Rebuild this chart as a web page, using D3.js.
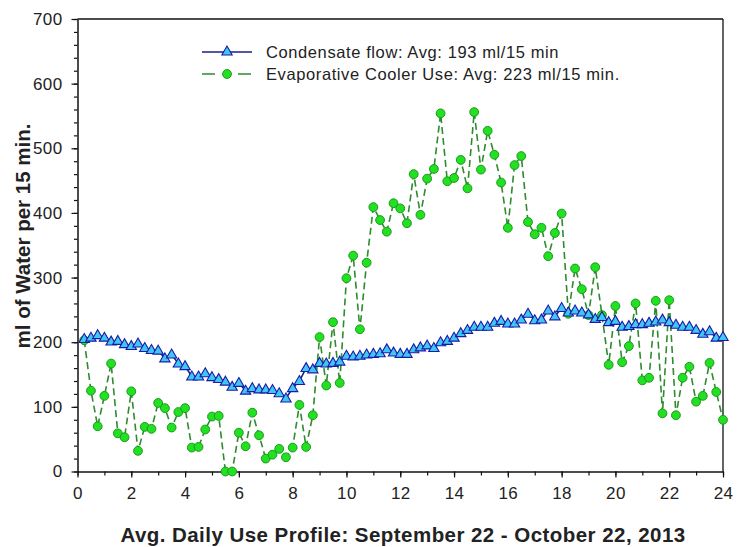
<!DOCTYPE html>
<html>
<head>
<meta charset="utf-8">
<script src="https://cdn.jsdelivr.net/npm/d3@7/dist/d3.min.js"></script>
<style>
  html, body { margin: 0; padding: 0; background: #fff; }
  svg { display: block; }
  text { font-family: "Liberation Sans", Arial, sans-serif; }
</style>
</head>
<body>
<svg id="chart" width="747" height="547"></svg>
<script>
// ---- data (15-minute intervals, hour 0.25 ... 24) ----
const stepHours = 0.25;
const condensate = [
  205, 207, 211, 207, 201, 202, 197, 194, 198, 191, 188, 187,
  175, 181, 167, 163, 147, 147, 152, 146, 143, 139, 131, 137,
  125, 129, 127, 127, 126, 121, 113, 129, 140, 160, 158, 168,
  167, 168, 170, 179, 178, 179, 181, 182, 183, 189, 184, 182,
  182, 189, 192, 195, 191, 200, 202, 207, 214, 219, 224, 224,
  224, 230, 233, 229, 229, 235, 244, 234, 235, 249, 240, 253,
  246, 249, 246, 243, 236, 239, 231, 233, 224, 225, 228, 228,
  230, 232, 235, 231, 227, 224, 224, 219, 213, 217, 207, 208
];
const evapCooler = [
  203, 125, 70, 117, 167, 59, 53, 124, 32, 69, 66, 106,
  98, 68, 92, 98, 37, 38, 65, 85, 86, 0, 0, 60,
  39, 91, 56, 20, 26, 35, 22, 37, 103, 38, 87, 208,
  133, 231, 137, 299, 334, 220, 323, 409, 389, 371, 415, 407,
  384, 460, 397, 453, 468, 554, 449, 454, 482, 438, 556, 467,
  527, 490, 447, 377, 474, 488, 386, 367, 377, 333, 369, 399,
  244, 314, 282, 242, 316, 242, 165, 256, 169, 194, 260, 141,
  145, 264, 90, 265, 87, 145, 162, 108, 117, 168, 123, 80
];
const xTicks = [0, 2, 4, 6, 8, 10, 12, 14, 16, 18, 20, 22, 24];
const yTicks = [0, 100, 200, 300, 400, 500, 600, 700];
const seriesNames = [
  "Condensate flow: Avg: 193 ml/15 min",
  "Evaporative Cooler Use: Avg: 223 ml/15 min."
];
const xTitle = "Avg. Daily Use Profile: September 22 - October 22, 2013";
const yTitle = "ml of Water per 15 min.";

// ---- layout ----
const svg = d3.select("#chart");
const pLeft = 77.5, pRight = 723, pTop = 19, pBottom = 471.5;
const x = d3.scaleLinear().domain([0, 24]).range([pLeft, pRight]);
const y = d3.scaleLinear().domain([0, 700]).range([pBottom, pTop]);

const ink = "#222";

// frame top/right
svg.append("line").attr("x1", pLeft).attr("x2", pRight).attr("y1", pTop).attr("y2", pTop)
  .attr("stroke", "#111").attr("stroke-width", 1.3);
svg.append("line").attr("x1", pRight).attr("x2", pRight).attr("y1", pTop).attr("y2", pBottom)
  .attr("stroke", "#111").attr("stroke-width", 1.3);

// minor ticks
const xMinor = d3.range(0, 25, 1);
const yMinor = d3.range(0, 701, 20);

const xAxisG = svg.append("g").attr("transform", `translate(0,${pBottom})`);
xAxisG.call(d3.axisBottom(x).tickValues(xMinor).tickSize(4).tickFormat(""));
xAxisG.call(g => g.select(".domain").remove());
svg.append("g").attr("transform", `translate(0,${pBottom})`)
  .call(d3.axisBottom(x).tickValues(xTicks).tickSize(6).tickSizeOuter(0).tickPadding(9).tickFormat(d3.format("d")));

const yAxisG = svg.append("g").attr("transform", `translate(${pLeft},0)`);
yAxisG.call(d3.axisLeft(y).tickValues(yMinor).tickSize(3.5).tickFormat(""));
yAxisG.call(g => g.select(".domain").remove());
svg.append("g").attr("transform", `translate(${pLeft},0)`)
  .call(d3.axisLeft(y).tickValues(yTicks).tickSize(6).tickSizeOuter(0).tickPadding(9).tickFormat(d3.format("d")));

svg.selectAll(".tick line").attr("stroke", "#111").attr("stroke-width", 1.2);
svg.selectAll(".domain").attr("stroke", "#111").attr("stroke-width", 1.5);
svg.selectAll(".tick text").attr("font-size", "17px").attr("fill", ink)
  .attr("letter-spacing", "0.4px")
  .attr("font-family", "'Liberation Sans', Arial, sans-serif");

// titles
svg.append("text").attr("x", 403).attr("y", 542).attr("text-anchor", "middle")
  .attr("font-size", "20.5px").attr("font-weight", "bold").attr("letter-spacing", "0.45px")
  .attr("fill", ink).text(xTitle);
svg.append("text").attr("transform", "translate(30,236) rotate(-90)").attr("text-anchor", "middle")
  .attr("font-size", "20.5px").attr("font-weight", "bold").attr("fill", ink).text(yTitle);

// ---- series ----
const hours = condensate.map((_, i) => (i + 1) * stepHours);
const condData = condensate.map((v, i) => [hours[i], v]);
const evapData = evapCooler.map((v, i) => [hours[i], v]);
const line = d3.line().x(d => x(d[0])).y(d => y(d[1]));

const condLine = "#1c1c8a", triFill = "#3fc6f2", triStroke = "#1a1aa8";
const evapLine = "#2e8b2e", dotFill = "#22e022", dotStroke = "#1a9a1a";

const tri = d3.symbol().type(d3.symbolTriangle).size(46);

svg.append("path").datum(evapData).attr("d", line).attr("fill", "none")
  .attr("stroke", evapLine).attr("stroke-width", 1.6).attr("stroke-dasharray", "7,4");

svg.append("path").datum(condData).attr("d", line).attr("fill", "none")
  .attr("stroke", condLine).attr("stroke-width", 1.6);

svg.append("g").selectAll("circle").data(evapData).join("circle")
  .attr("cx", d => x(d[0])).attr("cy", d => y(d[1])).attr("r", 4.4)
  .attr("fill", dotFill).attr("stroke", dotStroke).attr("stroke-width", 1);

svg.append("g").selectAll("path").data(condData).join("path")
  .attr("d", tri).attr("transform", d => `translate(${x(d[0])},${y(d[1]) + 0.5})`)
  .attr("fill", triFill).attr("stroke", triStroke).attr("stroke-width", 1.1);

// ---- legend ----
const lg = svg.append("g");
const lx1 = 202, lx2 = 252, ly1 = 52, ly2 = 74, tx = 266;
lg.append("line").attr("x1", lx1).attr("x2", lx2).attr("y1", ly1).attr("y2", ly1)
  .attr("stroke", condLine).attr("stroke-width", 1.6);
lg.append("path").attr("d", tri).attr("transform", `translate(${(lx1 + lx2) / 2},${ly1})`)
  .attr("fill", triFill).attr("stroke", triStroke).attr("stroke-width", 1.1);
lg.append("line").attr("x1", lx1).attr("x2", lx2).attr("y1", ly2).attr("y2", ly2)
  .attr("stroke", evapLine).attr("stroke-width", 1.6).attr("stroke-dasharray", "13,23");
lg.append("circle").attr("cx", (lx1 + lx2) / 2).attr("cy", ly2).attr("r", 4.4)
  .attr("fill", dotFill).attr("stroke", dotStroke);
lg.append("text").attr("x", tx).attr("y", ly1 + 6).attr("font-size", "16.5px").attr("letter-spacing", "0.6px")
  .attr("fill", ink).text(seriesNames[0]);
lg.append("text").attr("x", tx).attr("y", ly2 + 6).attr("font-size", "16.5px").attr("letter-spacing", "0.6px")
  .attr("fill", ink).text(seriesNames[1]);
</script>
</body>
</html>
